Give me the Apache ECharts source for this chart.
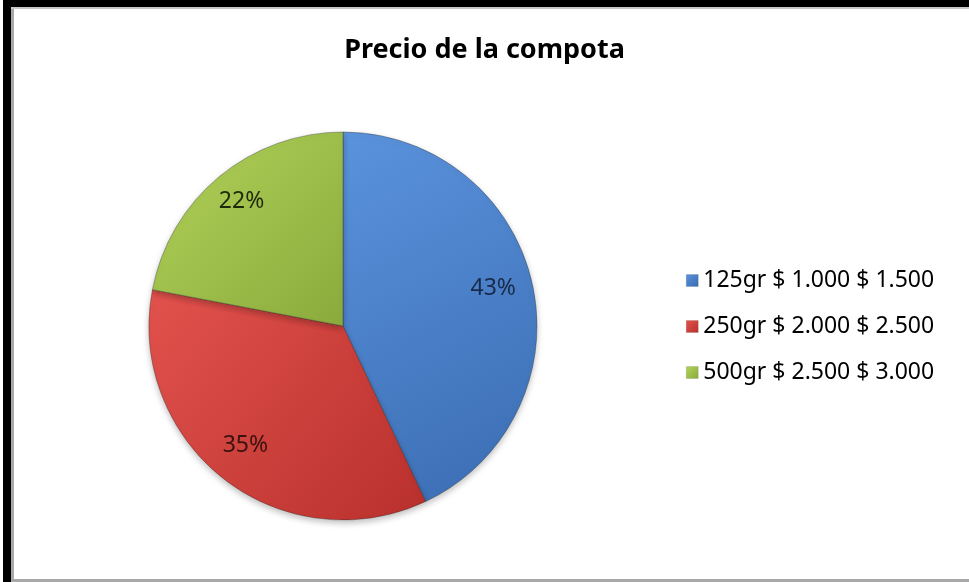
<!DOCTYPE html>
<html>
<head>
<meta charset="utf-8">
<script src="https://cdn.jsdelivr.net/npm/echarts@6/dist/echarts.min.js"></script>
<style>
html,body{margin:0;padding:0;background:#fff;}
#chart{width:969px;height:582px;}
</style>
</head>
<body>
<div id="chart"></div>
<script>
const titleText = 'Precio de la compota';
const categories = ['125gr $ 1.000 $ 1.500', '250gr $ 2.000 $ 2.500', '500gr $ 2.500 $ 3.000'];
const shares = [43, 35, 22];

const palette = [
  { light: '#5a93dc', dark: '#3a6cb2', text: '#1a2a4a' },
  { light: '#e2524d', dark: '#b8302c', text: '#3a1210' },
  { light: '#b2d25a', dark: '#8aab3c', text: '#1e2a0a' }
];

function grad(p) {
  return new echarts.graphic.LinearGradient(0, 0, 1, 1, [
    { offset: 0, color: p.light },
    { offset: 1, color: p.dark }
  ]);
}

const pieData = categories.map((name, i) => ({
  name: name,
  value: shares[i],
  itemStyle: { color: grad(palette[i]) }
}));

const labelData = categories.map((name, i) => ({
  name: name,
  value: shares[i],
  label: { color: palette[i].text }
}));

const chart = echarts.init(document.getElementById('chart'), null, { renderer: 'canvas' });
const FONT = '"Noto Sans", "Open Sans", sans-serif';

chart.setOption({
  backgroundColor: '#ffffff',
  animation: false,
  title: {
    text: titleText,
    left: 'center',
    top: 32,
    textStyle: { fontFamily: FONT, fontSize: 27, fontWeight: 'bold', color: '#000' }
  },
  legend: {
    orient: 'vertical',
    left: 681,
    top: 264,
    itemGap: 23,
    itemWidth: 12,
    itemHeight: 12,
    itemStyle: { borderColor: 'rgba(0,0,0,0.2)', borderWidth: 0.5 },
    icon: 'rect',
    data: categories,
    selectedMode: false,
    textStyle: { fontFamily: FONT, fontSize: 23, color: '#000' }
  },
  graphic: [
    { type: 'rect', left: 3, top: 0, shape: { width: 966, height: 7 }, style: { fill: '#000' }, z: 100 },
    { type: 'rect', left: 3, top: 0, shape: { width: 8, height: 582 }, style: { fill: '#000' }, z: 100 },
    { type: 'rect', left: 11, top: 7, shape: { width: 3, height: 573 }, style: { fill: '#a8a8a8' }, z: 100 },
    { type: 'rect', left: 11, top: 7, shape: { width: 958, height: 2 }, style: { fill: '#c8c8c8' }, z: 100 },
    { type: 'rect', left: 11, top: 579, shape: { width: 958, height: 3 }, style: { fill: '#a8a8a8' }, z: 100 }
  ],
  series: [
    {
      type: 'pie',
      center: [343, 326],
      radius: [0, 194],
      startAngle: 90,
      clockwise: true,
      silent: true,
      label: { show: false },
      labelLine: { show: false },
      itemStyle: {
        borderColor: 'rgba(40,40,40,0.35)',
        borderWidth: 1,
        shadowColor: 'rgba(0,0,0,0.25)',
        shadowBlur: 6,
        shadowOffsetY: 3
      },
      data: pieData
    },
    {
      type: 'pie',
      center: [341, 322],
      radius: [112, 194],
      startAngle: 90,
      clockwise: true,
      silent: true,
      itemStyle: { color: 'rgba(0,0,0,0)' },
      label: {
        show: true,
        position: 'inside',
        formatter: '{d}%',
        fontFamily: FONT,
        fontSize: 23
      },
      labelLine: { show: false },
      data: labelData
    }
  ]
});
</script>
</body>
</html>
